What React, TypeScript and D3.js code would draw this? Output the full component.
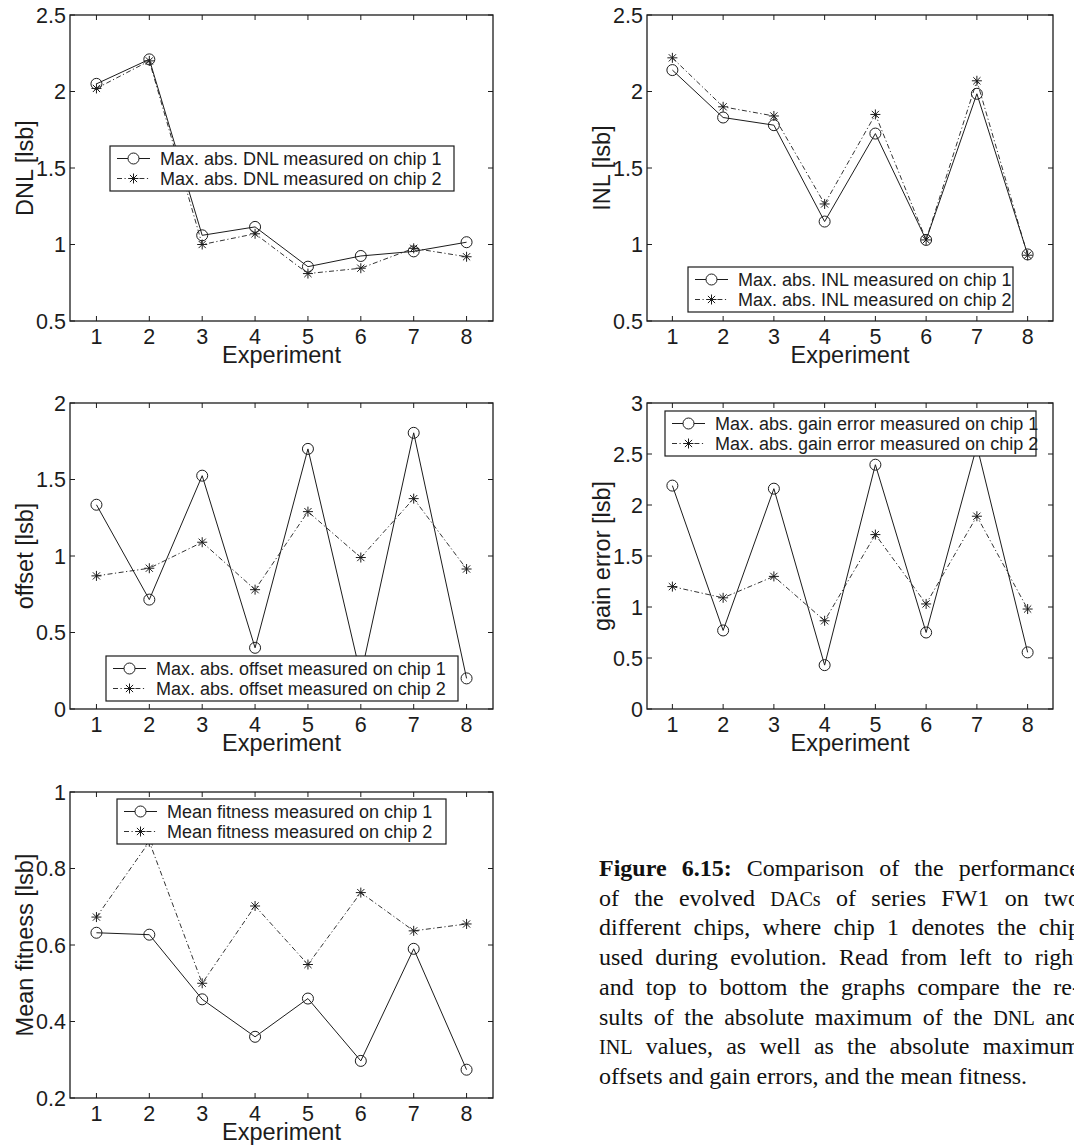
import React from "react";
import * as d3 from "d3";

const experiments = [1, 2, 3, 4, 5, 6, 7, 8];

const dnlChip1 = [2.05, 2.21, 1.06, 1.115, 0.855, 0.925, 0.955, 1.015];
const dnlChip2 = [2.02, 2.2, 1.0, 1.07, 0.81, 0.845, 0.975, 0.92];
const inlChip1 = [2.14, 1.83, 1.78, 1.15, 1.725, 1.03, 1.985, 0.935];
const inlChip2 = [2.22, 1.9, 1.84, 1.265, 1.85, 1.03, 2.07, 0.93];
const offsetChip1 = [1.335, 0.715, 1.525, 0.4, 1.7, 0.22, 1.805, 0.2];
const offsetChip2 = [0.87, 0.92, 1.09, 0.78, 1.29, 0.99, 1.375, 0.915];
const gainChip1 = [2.19, 0.77, 2.16, 0.43, 2.395, 0.75, 2.58, 0.555];
const gainChip2 = [1.2, 1.09, 1.3, 0.865, 1.71, 1.03, 1.89, 0.98];
const fitnessChip1 = [0.632, 0.627, 0.458, 0.36, 0.46, 0.297, 0.59, 0.274];
const fitnessChip2 = [0.673, 0.87, 0.5, 0.702, 0.549, 0.737, 0.637, 0.655];

const dnlTicks = [0.5, 1, 1.5, 2, 2.5];
const inlTicks = [0.5, 1, 1.5, 2, 2.5];
const offsetTicks = [0, 0.5, 1, 1.5, 2];
const gainTicks = [0, 0.5, 1, 1.5, 2, 2.5, 3];
const fitnessTicks = [0.2, 0.4, 0.6, 0.8, 1];

const dnlLegend = ["Max. abs. DNL measured on chip 1", "Max. abs. DNL measured on chip 2"];
const inlLegend = ["Max. abs. INL measured on chip 1", "Max. abs. INL measured on chip 2"];
const offsetLegend = ["Max. abs. offset measured on chip 1", "Max. abs. offset measured on chip 2"];
const gainLegend = ["Max. abs. gain error measured on chip 1", "Max. abs. gain error measured on chip 2"];
const fitnessLegend = ["Mean fitness measured on chip 1", "Mean fitness measured on chip 2"];

const captionLines = [
  "Figure 6.15: Comparison of the performance",
  "of the evolved DACs of series FW1 on two",
  "different chips, where chip 1 denotes the chip",
  "used during evolution. Read from left to right",
  "and top to bottom the graphs compare the re-",
  "sults of the absolute maximum of the DNL and",
  "INL values, as well as the absolute maximum",
  "offsets and gain errors, and the mean fitness.",
];
const smallCapsWords = ["DACs", "DNL", "INL"];

const SANS = '"Liberation Sans", Arial, Helvetica, sans-serif';
const SERIF = '"Liberation Serif", "Times New Roman", Times, serif';
const INK = "#1c1c1c";
const DASHDOT = "5,2.5,1.2,2.5";

function fmt(v: number) {
  return String(Math.round(v * 100) / 100);
}

function Star({ x, y, r = 5 }: { x: number; y: number; r?: number }) {
  const d = r * 0.72;
  return (
    <g stroke={INK} strokeWidth={1}>
      <line x1={x - r} y1={y} x2={x + r} y2={y} />
      <line x1={x} y1={y - r} x2={x} y2={y + r} />
      <line x1={x - d} y1={y - d} x2={x + d} y2={y + d} />
      <line x1={x - d} y1={y + d} x2={x + d} y2={y - d} />
    </g>
  );
}

type PanelProps = {
  x0: number; x1: number; y0: number; y1: number;
  domain: [number, number];
  ticks: number[];
  ylabel: string;
  s1: number[]; s2: number[];
  labels: string[];
  lx: number; ly: number; lw: number;
};

function Panel(p: PanelProps) {
  const xs = d3.scaleLinear().domain([0.5, 8.5]).range([p.x0, p.x1]);
  const ys = d3.scaleLinear().domain(p.domain).range([p.y1, p.y0]);
  const line = d3
    .line<number>()
    .x((_, i) => xs(experiments[i]))
    .y((d) => ys(d));
  const tl = 5;
  const lh = 45;
  return (
    <g>
      <path d={line(p.s1) || ""} fill="none" stroke={INK} strokeWidth={1} />
      <path d={line(p.s2) || ""} fill="none" stroke={INK} strokeWidth={0.9} strokeDasharray={DASHDOT} />
      {p.s1.map((v, i) => (
        <circle key={"c" + i} cx={xs(experiments[i])} cy={ys(v)} r={5.5} fill="none" stroke={INK} strokeWidth={1} />
      ))}
      {p.s2.map((v, i) => (
        <Star key={"s" + i} x={xs(experiments[i])} y={ys(v)} />
      ))}
      <rect x={p.x0} y={p.y0} width={p.x1 - p.x0} height={p.y1 - p.y0} fill="none" stroke={INK} strokeWidth={1.3} />
      {experiments.map((e) => (
        <g key={"xt" + e} stroke={INK} strokeWidth={1}>
          <line x1={xs(e)} x2={xs(e)} y1={p.y1} y2={p.y1 - tl} />
          <line x1={xs(e)} x2={xs(e)} y1={p.y0} y2={p.y0 + tl} />
        </g>
      ))}
      {p.ticks.map((t) => (
        <g key={"yt" + t} stroke={INK} strokeWidth={1}>
          <line x1={p.x0} x2={p.x0 + tl} y1={ys(t)} y2={ys(t)} />
          <line x1={p.x1} x2={p.x1 - tl} y1={ys(t)} y2={ys(t)} />
        </g>
      ))}
      {experiments.map((e) => (
        <text key={"xl" + e} x={xs(e)} y={p.y1 + 22.5} textAnchor="middle" fontFamily={SANS} fontSize={21.5} fill={INK}>
          {e}
        </text>
      ))}
      {p.ticks.map((t) => (
        <text key={"yl" + t} x={p.x0 - 4} y={ys(t) + 7.7} textAnchor="end" fontFamily={SANS} fontSize={21.5} fill={INK}>
          {fmt(t)}
        </text>
      ))}
      <text x={(p.x0 + p.x1) / 2} y={p.y1 + 42} textAnchor="middle" fontFamily={SANS} fontSize={23.5} fill={INK}>
        Experiment
      </text>
      <text
        transform={`translate(${p.x0 - 37},${(p.y0 + p.y1) / 2}) rotate(-90)`}
        textAnchor="middle"
        fontFamily={SANS}
        fontSize={23.5}
        fill={INK}
      >
        {p.ylabel}
      </text>
      <g>
        <rect x={p.lx} y={p.ly} width={p.lw} height={lh} fill="#fff" stroke={INK} strokeWidth={1.2} />
        <line x1={p.lx + 7} x2={p.lx + 40} y1={p.ly + 12.5} y2={p.ly + 12.5} stroke={INK} strokeWidth={1} />
        <circle cx={p.lx + 23.5} cy={p.ly + 12.5} r={5.5} fill="#fff" stroke={INK} strokeWidth={1} />
        <line x1={p.lx + 7} x2={p.lx + 40} y1={p.ly + 32.5} y2={p.ly + 32.5} stroke={INK} strokeWidth={0.9} strokeDasharray={DASHDOT} />
        <Star x={p.lx + 23.5} y={p.ly + 32.5} />
        <text x={p.lx + 50} y={p.ly + 19} fontFamily={SANS} fontSize={18} fill={INK}>
          {p.labels[0]}
        </text>
        <text x={p.lx + 50} y={p.ly + 39} fontFamily={SANS} fontSize={18} fill={INK}>
          {p.labels[1]}
        </text>
      </g>
    </g>
  );
}

let ctx: CanvasRenderingContext2D | null = null;
function measure(text: string, font: string) {
  if (!ctx) {
    const c = document.createElement("canvas");
    ctx = c.getContext("2d");
  }
  if (!ctx) return text.length * 10;
  ctx.font = font;
  return ctx.measureText(text).width;
}

function Caption() {
  const left = 599;
  const right = 1080;
  const fs = 24;
  const base = 876;
  const lead = 29.7;
  return (
    <g fill="#111" fontFamily={SERIF}>
      {captionLines.map((ln, li) => {
        const words = ln.split(" ");
        const info = words.map((w, wi) => {
          const bold = li === 0 && wi < 2;
          const sc = smallCapsWords.includes(w.replace(/[^A-Za-z]/g, ""));
          const size = sc ? fs * 0.84 : fs;
          const font = `${bold ? "bold " : ""}${size}px ${SERIF}`;
          return { w, bold, size, width: measure(w, font) };
        });
        const total = info.reduce((a, b) => a + b.width, 0);
        const last = li === captionLines.length - 1;
        const gap = last ? fs * 0.25 : (right - left - total) / (words.length - 1);
        let x = left;
        return (
          <g key={li}>
            {info.map((it, wi) => {
              const el = (
                <text key={wi} x={x} y={base + li * lead} fontSize={it.size} fontWeight={it.bold ? "bold" : "normal"}>
                  {it.w}
                </text>
              );
              x += it.width + gap;
              return el;
            })}
          </g>
        );
      })}
    </g>
  );
}

export default function App() {
  return (
    <svg
      width={1074}
      height={1146}
      style={{ position: "absolute", left: 0, top: 0, background: "#fff" }}
    >
      <rect width={1074} height={1146} fill="#fff" />
      <Panel x0={70} x1={493} y0={15} y1={321} domain={[0.5, 2.5]} ticks={dnlTicks} ylabel="DNL [lsb]"
        s1={dnlChip1} s2={dnlChip2} labels={dnlLegend} lx={110} ly={146} lw={344} />
      <Panel x0={647} x1={1053} y0={15} y1={321} domain={[0.5, 2.5]} ticks={inlTicks} ylabel="INL [lsb]"
        s1={inlChip1} s2={inlChip2} labels={inlLegend} lx={688} ly={267} lw={325} />
      <Panel x0={70} x1={493} y0={403} y1={709} domain={[0, 2]} ticks={offsetTicks} ylabel="offset [lsb]"
        s1={offsetChip1} s2={offsetChip2} labels={offsetLegend} lx={106} ly={656} lw={352} />
      <Panel x0={647} x1={1053} y0={403} y1={709} domain={[0, 3]} ticks={gainTicks} ylabel="gain error [lsb]"
        s1={gainChip1} s2={gainChip2} labels={gainLegend} lx={665} ly={411} lw={371} />
      <Panel x0={70} x1={493} y0={792} y1={1098} domain={[0.2, 1]} ticks={fitnessTicks} ylabel="Mean fitness [lsb]"
        s1={fitnessChip1} s2={fitnessChip2} labels={fitnessLegend} lx={117} ly={799} lw={329} />
      <Caption />
    </svg>
  );
}
